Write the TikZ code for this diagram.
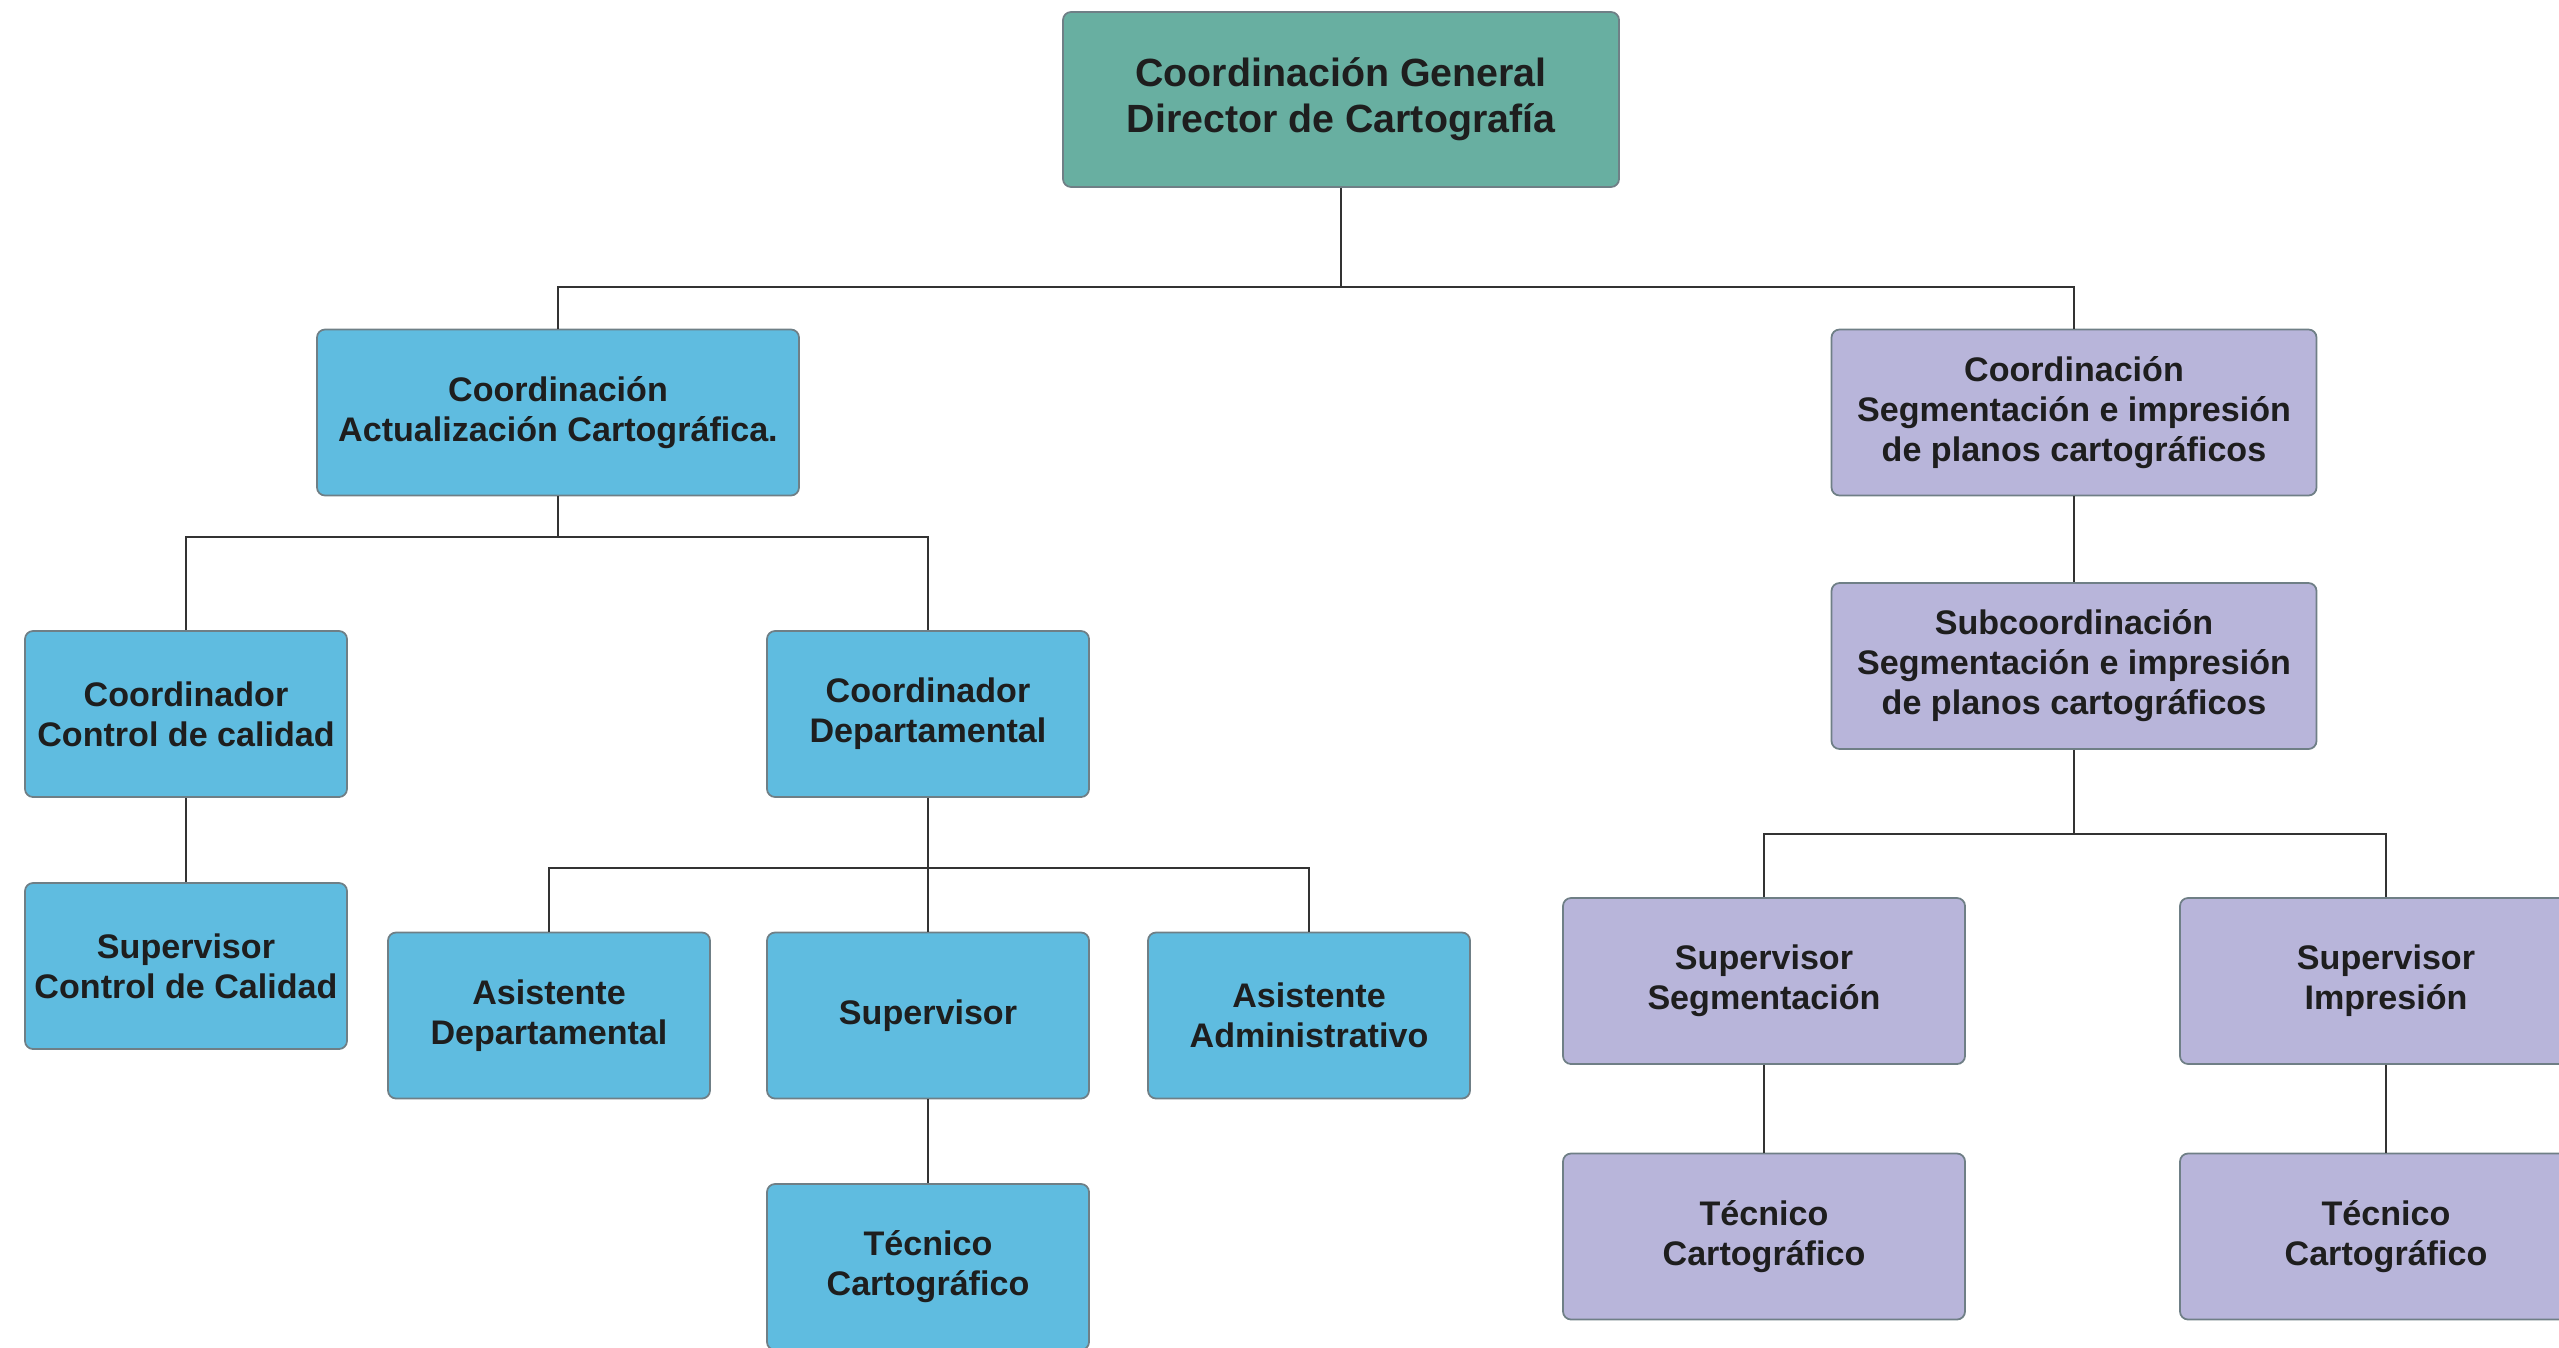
\documentclass[tikz,border=0pt]{standalone}
\usepackage{fontspec}
\setmainfont{Liberation Sans}
\usepackage{tikz}
\usetikzlibrary{calc}
\definecolor{colverde}{HTML}{68AFA1}
\definecolor{colazul}{HTML}{5FBCE0}
\definecolor{collila}{HTML}{B8B5DA}
\definecolor{colborde}{HTML}{6F7F86}
\definecolor{coltexto}{HTML}{1E1E1E}

\begin{document}
\begin{tikzpicture}[
  caja/.style={draw=colborde, line width=0.5pt, rounded corners=0.08cm,
    minimum width=3.22cm, minimum height=1.66cm, inner sep=0pt,
    align=center, text=coltexto, font=\bfseries\fontsize{9.7}{11.4}\selectfont},
  cajaazul/.style={caja, fill=colazul},
  cajalila/.style={caja, fill=collila},
  bajo/.style={execute at begin node={\rule{0pt}{#1}}},
  linea/.style={draw=black!80, line width=0.7pt}
]
\useasboundingbox (0cm,0cm) rectangle (25.59cm,-13.48cm);

% nivel 1
\node[caja, fill=colverde, minimum width=5.56cm, minimum height=1.75cm,
  font=\bfseries\fontsize{11.2}{13.2}\selectfont, bajo=0.63cm] (gen) at (13.41cm,-0.995cm)
  {Coordinación General\\Director de Cartografía};

% nivel 2
\node[cajaazul, minimum width=4.82cm] (act) at (5.58cm,-4.125cm)
  {Coordinación\\Actualización Cartográfica.};
\node[cajalila, minimum width=4.85cm] (seg) at (20.74cm,-4.125cm)
  {Coordinación\\Segmentación e impresión\\de planos cartográficos};

% rama izquierda
\node[cajaazul] (coordcal) at (1.86cm,-7.14cm) {Coordinador\\Control de calidad};
\node[cajaazul] (supcal) at (1.86cm,-9.66cm) {Supervisor\\Control de Calidad};
\node[cajaazul, bajo=0.51cm] (coorddep) at (9.28cm,-7.14cm) {Coordinador\\Departamental};
\node[cajaazul] (asisdep) at (5.49cm,-10.155cm) {Asistente\\Departamental};
\node[cajaazul] (sup) at (9.28cm,-10.155cm) {Supervisor};
\node[cajaazul] (asisadm) at (13.09cm,-10.155cm) {Asistente\\Administrativo};
\node[cajaazul] (tec) at (9.28cm,-12.67cm) {Técnico\\Cartográfico};

% rama derecha
\node[cajalila, minimum width=4.85cm] (sub) at (20.74cm,-6.66cm)
  {Subcoordinación\\Segmentación e impresión\\de planos cartográficos};
\node[cajalila, minimum width=4.02cm] (supseg) at (17.64cm,-9.81cm) {Supervisor\\Segmentación};
\node[cajalila, minimum width=4.12cm, bajo=0.47cm] (supimp) at (23.86cm,-9.81cm) {Supervisor\\Impresión};
\node[cajalila, minimum width=4.02cm, bajo=0.54cm] (tecseg) at (17.64cm,-12.365cm) {Técnico\\Cartográfico};
\node[cajalila, minimum width=4.12cm] (tecimp) at (23.86cm,-12.365cm) {Técnico\\Cartográfico};

% lineas
\coordinate (b1) at (13.41cm,-2.87cm);
\coordinate (b2) at (5.58cm,-5.37cm);
\coordinate (b3) at (9.28cm,-8.68cm);
\coordinate (b4) at (20.74cm,-8.34cm);
\draw[linea] (gen.south) -- (b1);
\draw[linea] (act.north) |- (b1) -| (seg.north);
\draw[linea] (act.south) -- (b2);
\draw[linea] (coordcal.north) |- (b2) -| (coorddep.north);
\draw[linea] (coordcal.south) -- (supcal.north);
\draw[linea] (coorddep.south) -- (b3);
\draw[linea] (asisdep.north) |- (b3) -| (asisadm.north);
\draw[linea] (b3) -- (sup.north);
\draw[linea] (sup.south) -- (tec.north);
\draw[linea] (seg.south) -- (sub.north);
\draw[linea] (sub.south) -- (b4);
\draw[linea] (supseg.north) |- (b4) -| (supimp.north);
\draw[linea] (supseg.south) -- (tecseg.north);
\draw[linea] (supimp.south) -- (tecimp.north);
\end{tikzpicture}
\end{document}
